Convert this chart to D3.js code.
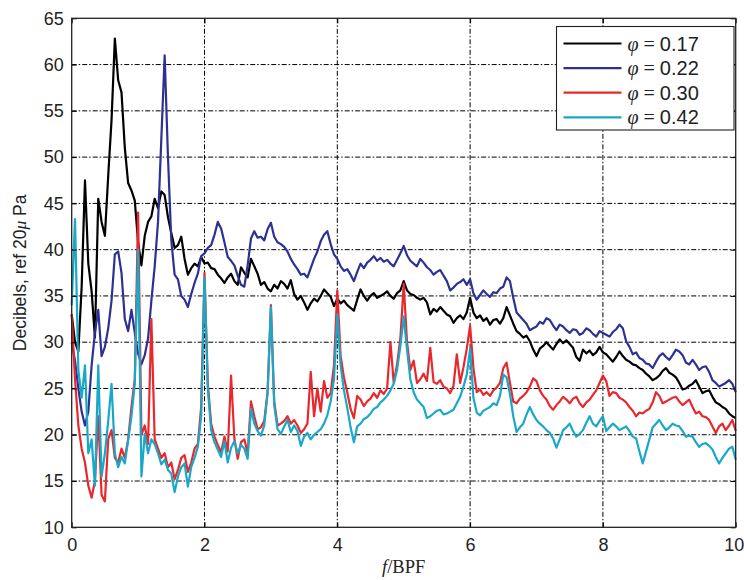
<!DOCTYPE html>
<html>
<head>
<meta charset="utf-8">
<script src="https://cdn.jsdelivr.net/npm/d3@7"></script>
<style>
  body { margin: 0; background: #fff; }
  svg { display: block; }
</style>
</head>
<body>
<div id="chart"></div>
<script>
// -------------------- DATA --------------------

// f/BPF sample positions
const freq = [
  0.00, 0.05, 0.10, 0.15, 0.20, 0.25, 0.30, 0.35, 0.40, 0.45,
  0.50, 0.55, 0.60, 0.65, 0.70, 0.75, 0.80, 0.85, 0.90, 0.95,
  1.00, 1.05, 1.10, 1.15, 1.20, 1.25, 1.30, 1.35, 1.40, 1.45,
  1.50, 1.55, 1.60, 1.65, 1.70, 1.75, 1.80, 1.85, 1.90, 1.95,
  2.00, 2.05, 2.10, 2.15, 2.20, 2.25, 2.30, 2.35, 2.40, 2.45,
  2.50, 2.55, 2.60, 2.65, 2.70, 2.75, 2.80, 2.85, 2.90, 2.95,
  3.00, 3.05, 3.10, 3.15, 3.20, 3.25, 3.30, 3.35, 3.40, 3.45,
  3.50, 3.55, 3.60, 3.65, 3.70, 3.75, 3.80, 3.85, 3.90, 3.95,
  4.00, 4.05, 4.10, 4.15, 4.20, 4.25, 4.30, 4.35, 4.40, 4.45,
  4.50, 4.55, 4.60, 4.65, 4.70, 4.75, 4.80, 4.85, 4.90, 4.95,
  5.00, 5.05, 5.10, 5.15, 5.20, 5.25, 5.30, 5.35, 5.40, 5.45,
  5.50, 5.55, 5.60, 5.65, 5.70, 5.75, 5.80, 5.85, 5.90, 5.95,
  6.00, 6.05, 6.10, 6.15, 6.20, 6.25, 6.30, 6.35, 6.40, 6.45,
  6.50, 6.55, 6.60, 6.65, 6.70, 6.75, 6.80, 6.85, 6.90, 6.95,
  7.00, 7.05, 7.10, 7.15, 7.20, 7.25, 7.30, 7.35, 7.40, 7.45,
  7.50, 7.55, 7.60, 7.65, 7.70, 7.75, 7.80, 7.85, 7.90, 7.95,
  8.00, 8.05, 8.10, 8.15, 8.20, 8.25, 8.30, 8.35, 8.40, 8.45,
  8.50, 8.55, 8.60, 8.65, 8.70, 8.75, 8.80, 8.85, 8.90, 8.95,
  9.00, 9.05, 9.10, 9.15, 9.20, 9.25, 9.30, 9.35, 9.40, 9.45,
  9.50, 9.55, 9.60, 9.65, 9.70, 9.75, 9.80, 9.85, 9.90, 9.95,
  10.00
];

// phi = 0.17
const db017 = [
  33, 30, 29, 36, 47.5, 38.5, 35.5, 30.5, 45.5, 43,
  41.5, 48, 54, 62.8, 58.3, 57, 51, 47.2, 46.4, 45.3,
  40.8, 38.3, 41.5, 43, 43.6, 45.5, 44.5, 46.3, 45.9, 43.5,
  41.8, 40.2, 40.5, 41.4, 39, 37.3, 38, 38.5, 38.2, 39.2,
  38.5, 38.6, 38.0, 37.9, 37.3, 36.9, 36.4, 37.0, 37.4, 36.6,
  36.2, 38.1, 37.5, 37.0, 39.0, 38.2, 37.4, 36.2, 36.5, 35.8,
  35.5, 36.2, 35.8, 36.6, 36.3, 35.8, 36.7, 35.2, 34.6, 35.0,
  34.3, 33.5, 34.2, 34.7, 34.4, 35.0, 35.7, 35.3, 34.9, 33.9,
  34.7, 34.2, 34.5, 34.0, 33.7, 33.4, 34.6, 35.7, 35.0, 34.5,
  35.0, 35.3, 34.8, 35.0, 35.2, 35.5, 35.0, 34.7, 35.3, 35.6,
  36.6, 35.6, 35.2, 35.1, 34.8, 34.6, 34.8, 34.3, 33.0, 33.6,
  33.3, 33.8, 33.4, 33.0, 32.8, 32.1, 32.6, 32.9, 32.5, 33.2,
  34.8, 33.2, 32.6, 32.9, 32.3, 32.6, 31.9, 32.4, 32.5, 32.0,
  32.6, 33.8, 32.9, 32.0, 31.2, 30.9, 30.5, 30.7, 30.1, 29.2,
  28.5, 29.3, 29.6, 30.0, 29.6, 29.2, 29.8, 30.3, 29.9, 30.2,
  29.8, 29.4, 28.4, 28.0, 29.2, 28.8, 29.1, 28.6, 28.9, 29.5,
  28.9, 28.7, 28.3, 27.9, 28.4, 29.0, 28.5, 28.1, 27.9, 27.6,
  27.5, 27.2, 27.0, 26.6, 26.3, 25.9, 26.1, 26.4, 26.9, 27.2,
  26.7, 26.5, 26.2, 25.6, 24.9, 25.0, 25.3, 25.5, 25.9, 25.2,
  24.5, 24.7, 24.8, 24.1, 23.5, 23.3, 23.0, 22.8, 22.3, 22.0,
  21.8
];

// phi = 0.22
const db022 = [
  30, 28, 25, 22.5, 21, 22.5, 27.5, 31, 33.5, 28.5,
  29.5, 31.5, 34.5, 39.5, 39.8, 37.5, 32.5, 31.2, 33.5, 31,
  28.8, 27.6, 28.6, 30.4, 34.5, 38.2, 43, 52, 61, 50,
  41, 37.3, 36.8, 35, 34.6, 33.8, 35.2, 36.4, 37.4, 39.3,
  39.6, 40.2, 40.5, 41.6, 43.0, 42.3, 40.8, 39.2, 38.8, 38.3,
  37.2, 36.2, 36.0, 38.3, 41.2, 42.0, 41.3, 41.4, 41.0, 42.2,
  42.9, 41.4, 40.8, 40.6, 40.3, 39.8, 39.0, 38.4, 37.9, 37.3,
  37.4, 37.0, 38.0, 39.0, 39.8, 40.9, 41.6, 42.0, 40.6, 39.5,
  39.0, 38.2, 37.7, 37.9, 37.3, 36.6, 37.6, 38.5, 38.0, 38.6,
  38.9, 39.3, 38.8, 39.1, 38.7, 38.9, 38.5, 38.2, 38.9, 39.6,
  40.4, 39.4, 38.8, 38.5, 38.2, 39.0, 38.6, 38.1, 37.8, 37.3,
  37.6, 37.8, 37.2, 36.6, 35.6, 35.9, 36.3, 36.5, 36.8, 36.2,
  36.8, 35.3, 34.6, 35.1, 35.6, 35.2, 34.9, 35.4, 35.3, 35.8,
  36.0, 37.0, 36.6, 34.8, 33.2, 32.8, 32.4, 32.0, 31.3, 31.5,
  31.7, 32.2, 32.0, 32.6, 32.4, 31.8, 31.3, 31.9, 31.7, 31.3,
  31.0, 31.4, 31.3, 30.8, 31.0, 31.5, 31.3, 30.9, 30.6, 31.2,
  31.0, 30.8, 30.6, 31.1, 31.4, 31.9, 31.5, 30.1, 29.5, 28.7,
  28.9, 28.3, 28.1, 27.7, 27.6, 27.2, 27.9, 28.5, 28.8, 28.4,
  28.1, 28.6, 29.2, 29.0, 28.6, 27.8, 27.6, 28.1, 27.6, 27.0,
  27.3, 27.4, 26.8, 25.9, 25.6, 25.2, 25.4, 25.6, 25.9, 25.5,
  24.6
];

// phi = 0.30
const db030 = [
  33, 26, 21, 18.5, 17, 14.5, 13.2, 15, 22, 13.5,
  12.8, 19.5, 20.5, 17.5, 17, 18.5, 17.5, 19.5, 23, 26,
  44, 20, 21, 19, 32.5, 19.5, 18.5, 17.5, 18, 16.5,
  17, 15.2, 16.2, 17.5, 17.8, 16, 17, 18.5, 19, 23,
  37.5, 25.5, 21.2, 19.8, 18.9, 18.1, 19.8, 18.2, 26.4, 19.6,
  17.4, 19.2, 19.5, 18.0, 23.6, 22.0, 20.6, 20.8, 21.5, 24.6,
  34.0, 23.6, 21.0, 21.2, 21.5, 22.0, 21.2, 21.6, 21.0, 20.2,
  20.6, 21.2, 26.8, 22.0, 25.0, 22.5, 25.8, 24.0, 24.5, 27.5,
  35.6, 28.5, 26.2, 24.6, 22.8, 21.8, 24.2, 23.8, 23.1, 23.6,
  23.9, 24.5, 24.0, 24.8, 24.4, 25.0, 30.0, 25.6, 27.6, 30.4,
  36.3, 30.0, 27.0, 28.0, 25.6, 26.0, 26.6, 25.8, 29.4, 25.7,
  25.5, 25.9, 25.2, 25.0, 24.5, 25.3, 28.7, 25.6, 27.3, 29.3,
  31.8, 27.2, 24.6, 24.9, 24.3, 24.6, 24.2, 24.8, 25.1, 25.6,
  27.2, 27.8, 25.6, 23.6, 23.4, 23.9, 24.2, 24.6, 25.2, 26.1,
  25.8, 24.8, 24.2, 23.8, 23.1, 22.7, 23.2, 23.6, 24.1, 23.8,
  23.4, 23.9, 24.1, 23.4, 23.0, 23.5, 23.8, 24.3, 24.8, 25.6,
  26.4, 25.8, 24.2, 24.6, 24.5, 24.0, 23.8, 23.5, 23.0, 22.6,
  22.0, 22.4, 22.3, 22.6, 22.8, 23.5, 24.6, 24.2, 23.4, 23.6,
  23.8, 24.0, 24.1, 23.6, 23.2, 23.5, 23.8, 23.0, 22.3, 22.5,
  22.0, 21.9, 21.6, 20.9, 20.2, 20.9, 21.2, 20.5, 21.0, 21.6,
  20.4
];

// phi = 0.42
const db042 = [
  34, 43.3, 27, 24, 27.5, 18, 19.5, 14.5, 27.5, 15.5,
  18, 21.5, 25.5, 18, 16.5, 17.6, 16.9, 19.4, 22, 25.5,
  40, 15.5, 20.1, 18, 19.5, 19, 18, 16.8, 17.3, 16.2,
  15.8, 13.8, 15.5, 16.5, 16.9, 14.4, 16.5, 17.5, 18.7, 22,
  37, 25.0, 20.5, 19.2, 18.4, 17.6, 19.3, 17.0, 18.6, 19.3,
  18.0, 18.9, 18.5, 17.4, 22.8, 21.2, 20.4, 19.9, 21.0, 24.5,
  33.8, 23.2, 20.6, 20.1, 20.9, 21.6, 20.3, 21.0, 20.4, 18.8,
  19.8, 20.2, 19.5, 20.0, 20.3, 20.6, 21.2, 22.1, 23.6, 26.0,
  33.0, 27.5, 24.8, 22.9, 20.8, 19.2, 20.9, 21.2, 21.7, 21.9,
  22.3, 22.8, 23.0, 23.5, 23.8, 24.2, 24.8, 25.5, 27.0, 29.6,
  32.8, 29.2, 26.0, 24.6, 23.8, 23.4, 23.0, 21.8, 22.0, 22.3,
  22.6, 22.7, 22.2, 22.3, 22.5, 22.7, 23.4, 24.1, 25.2, 26.5,
  29.3, 24.0, 22.4, 22.1, 22.6, 22.8, 23.0, 23.4, 23.2, 24.2,
  26.5, 26.2, 24.4, 22.0, 20.3, 20.8, 21.2, 22.2, 23.0, 22.2,
  21.6, 21.2, 20.9, 20.5, 20.2, 19.6, 18.6, 19.5, 20.5, 20.8,
  21.2, 20.4, 19.8, 20.1, 20.5, 21.3, 22.0, 21.2, 20.9, 21.5,
  22.0, 20.4, 20.8, 21.2, 20.9, 20.5, 20.7, 20.9, 20.4, 19.8,
  19.6, 18.2, 16.9, 18.2, 19.5, 20.8, 21.2, 21.6, 21.0, 20.5,
  20.8, 21.2, 21.0, 20.9, 20.4, 19.8, 19.9, 19.8, 19.2, 18.7,
  19.0, 19.1, 18.8, 18.4, 17.6, 16.9, 17.5, 18.0, 18.5, 18.7,
  17.3
];

const seriesNames = ["0.17", "0.22", "0.30", "0.42"];
const seriesValues = [db017, db022, db030, db042];
const seriesColors = ["#000000", "#2e3192", "#e8282c", "#1aa8c8"];

const xTicks = [0, 2, 4, 6, 8, 10];
const yTicks = [10, 15, 20, 25, 30, 35, 40, 45, 50, 55, 60, 65];

// -------------------- VISUALIZATION --------------------

const width = 744, height = 580;
const margin = { top: 18.3, right: 8.3, bottom: 52.7, left: 71.7 };

const svg = d3.select("#chart")
  .append("svg")
  .attr("width", width)
  .attr("height", height);

const x = d3.scaleLinear().domain([0, 10]).range([margin.left, width - margin.right]);
const y = d3.scaleLinear().domain([10, 65]).range([height - margin.bottom, margin.top]);

const tickFont = "'Liberation Sans', Arial, Helvetica, sans-serif";
const mathFont = "'Liberation Serif', 'DejaVu Serif', serif";

// grid lines
const grid = svg.append("g")
  .attr("stroke", "#000")
  .attr("stroke-width", 1)
  .attr("stroke-dasharray", "5,2,1.5,2");

grid.selectAll("line.gx")
  .data(xTicks.filter(d => d > 0 && d < 10))
  .join("line")
  .attr("class", "gx")
  .attr("x1", d => x(d)).attr("x2", d => x(d))
  .attr("y1", y(10)).attr("y2", y(65));

grid.selectAll("line.gy")
  .data(yTicks.filter(d => d > 10 && d < 65))
  .join("line")
  .attr("class", "gy")
  .attr("x1", x(0)).attr("x2", x(10))
  .attr("y1", d => y(d)).attr("y2", d => y(d));

// curves
const line = d3.line()
  .x((d, i) => x(freq[i]))
  .y(d => y(d));

svg.append("g")
  .attr("fill", "none")
  .attr("stroke-width", 2.2)
  .attr("stroke-linejoin", "round")
  .selectAll("path")
  .data(seriesValues)
  .join("path")
  .attr("stroke", (d, i) => seriesColors[i])
  .attr("d", d => line(d));

// axes (ticks pointing inward, box around plot)
svg.append("g")
  .attr("transform", `translate(0,${y(10)})`)
  .call(d3.axisBottom(x).tickValues(xTicks).tickSize(-5).tickPadding(11).tickFormat(d3.format("d")))
  .call(g => g.select(".domain").remove())
  .call(g => g.selectAll("text").attr("font-family", tickFont).attr("font-size", 18).attr("fill", "#222"))
  // last label sits against the window edge
  .call(g => g.selectAll("text").filter(d => d === 10).attr("text-anchor", "end").attr("dx", 8));

svg.append("g")
  .attr("transform", `translate(${x(0)},0)`)
  .call(d3.axisLeft(y).tickValues(yTicks).tickSize(-5).tickPadding(8).tickFormat(d3.format("d")))
  .call(g => g.select(".domain").remove())
  .call(g => g.selectAll("text").attr("font-family", tickFont).attr("font-size", 18).attr("fill", "#222"));

// top / right inward ticks
svg.append("g")
  .attr("transform", `translate(0,${y(65)})`)
  .call(d3.axisTop(x).tickValues(xTicks).tickSize(-5).tickFormat(""))
  .call(g => g.select(".domain").remove());

svg.append("g")
  .attr("transform", `translate(${x(10)},0)`)
  .call(d3.axisRight(y).tickValues(yTicks).tickSize(-5).tickFormat(""))
  .call(g => g.select(".domain").remove());

svg.append("rect")
  .attr("x", x(0)).attr("y", y(65))
  .attr("width", x(10) - x(0)).attr("height", y(10) - y(65))
  .attr("fill", "none")
  .attr("stroke", "#222")
  .attr("stroke-width", 1.3);

// axis labels
svg.append("text")
  .attr("transform", `translate(20,${(y(10) + y(65)) / 2}) rotate(-90)`)
  .attr("text-anchor", "middle")
  .attr("dominant-baseline", "central")
  .attr("font-family", tickFont)
  .attr("font-size", 17.5)
  .attr("fill", "#222")
  .call(t => {
    t.append("tspan").text("Decibels, ref 20");
    t.append("tspan").attr("font-style", "italic").attr("font-family", mathFont).text("μ");
    t.append("tspan").text(" Pa");
  });

svg.append("text")
  .attr("x", (x(0) + x(10)) / 2)
  .attr("y", 573)
  .attr("text-anchor", "middle")
  .attr("font-family", "'Liberation Serif', 'Times New Roman', serif")
  .attr("font-size", 18.5)
  .attr("fill", "#222")
  .call(t => {
    t.append("tspan").attr("font-style", "italic").text("f");
    t.append("tspan").text("/BPF");
  });

// legend
const legend = svg.append("g").attr("transform", "translate(556.5,26.5)");
legend.append("rect")
  .attr("width", 177.5).attr("height", 103.5)
  .attr("fill", "#fff")
  .attr("stroke", "#222")
  .attr("stroke-width", 1.1);

const rows = legend.selectAll("g.row")
  .data(seriesNames)
  .join("g")
  .attr("class", "row")
  .attr("transform", (d, i) => `translate(0,${17 + i * 24.6})`);

rows.append("line")
  .attr("x1", 7).attr("x2", 65)
  .attr("stroke", (d, i) => seriesColors[i])
  .attr("stroke-width", 2.2);

rows.append("text")
  .attr("x", 71)
  .attr("dominant-baseline", "central")
  .attr("font-size", 20)
  .attr("fill", "#222")
  .call(t => {
    t.append("tspan").attr("font-family", mathFont).attr("font-style", "italic").text("φ");
    t.append("tspan").attr("font-family", mathFont).attr("dx", 5).text("=");
    t.append("tspan").attr("font-family", tickFont).attr("dx", 5).text(d => d);
  });
</script>
</body>
</html>
